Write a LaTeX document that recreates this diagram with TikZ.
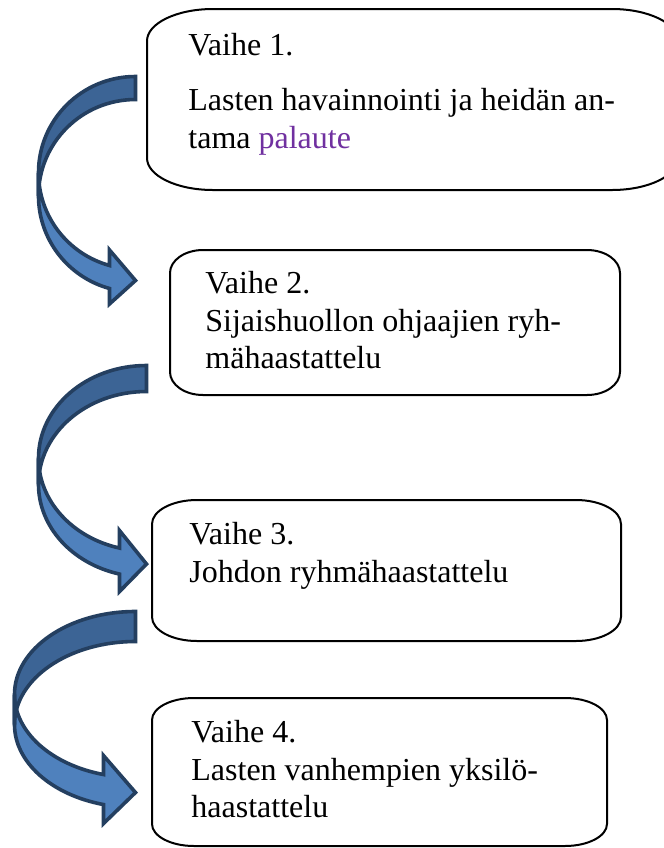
\documentclass[tikz,border=0pt]{standalone}
\usepackage{fontspec}
\setmainfont{Liberation Serif}
\definecolor{arlight}{HTML}{4F81BD}
\definecolor{ardark}{HTML}{3C6495}
\definecolor{arline}{HTML}{243F60}
\definecolor{purp}{HTML}{7030A0}
\tikzset{
  lightband/.style={fill=arlight},
  darkband/.style={fill=ardark},
  arrowline/.style={draw=arline, line width=1.8pt, line join=miter},
  boxline/.style={draw=black, line width=1pt},
  txt/.style={anchor=base west, inner sep=0pt, font=\fontsize{16}{19}\selectfont}
}
% curved right arrow: #1 x0, #2 y0, #3 W, #4 H, #5 th, #6 aw, #7 ah (px, y down)
\newcommand{\curvarrow}[7]{%
\begin{scope}[shift={(#1,#2)}]
\pgfmathsetmacro\caW{#3}
\pgfmathsetmacro\caH{#4}
\pgfmathsetmacro\caT{#5}
\pgfmathsetmacro\caA{#6}
\pgfmathsetmacro\caL{#7}
\pgfmathsetmacro\caHR{\caH/2-(\caT+\caA)/4}
\pgfmathsetmacro\caTone{acos(-\caL/\caW)}
\pgfmathsetmacro\caDY{\caHR*sin(\caTone)}
\pgfmathsetmacro\caYf{\caHR+\caDY}
\pgfmathsetmacro\caYs{\caYf+\caT}
\pgfmathsetmacro\caDH{(\caA-\caT)/2}
\pgfmathsetmacro\caYfo{\caYf-\caDH}
\pgfmathsetmacro\caYe{\caYs+\caDH}
\pgfmathsetmacro\caYsix{\caH-\caA/2}
\pgfmathsetmacro\caXone{\caW-\caL}
\path[lightband] (0,\caHR) arc[start angle=180, end angle=\caTone, x radius=\caW, y radius=\caHR]
  -- (\caXone,\caYfo) -- (\caW,\caYsix) -- (\caXone,\caYe) -- (\caXone,\caYs)
  arc[start angle=\caTone, end angle=180, x radius=\caW, y radius=\caHR] -- cycle;
\path[darkband] (0,\caHR) arc[start angle=180, end angle=270, x radius=\caW, y radius=\caHR]
  -- (\caW,\caT) arc[start angle=270, end angle=180, x radius=\caW, y radius=\caHR] -- cycle;
\path[arrowline] (0,\caHR) arc[start angle=180, end angle=\caTone, x radius=\caW, y radius=\caHR]
  -- (\caXone,\caYfo) -- (\caW,\caYsix) -- (\caXone,\caYe) -- (\caXone,\caYs)
  arc[start angle=\caTone, end angle=180, x radius=\caW, y radius=\caHR] -- cycle;
\path[arrowline] (0,\caHR) arc[start angle=180, end angle=270, x radius=\caW, y radius=\caHR]
  -- (\caW,\caT) arc[start angle=270, end angle=180, x radius=\caW, y radius=\caHR] -- cycle;
\end{scope}}
% rounded box with elliptical corners: #1 x1, #2 y1, #3 x2, #4 y2, #5 rx, #6 ry
\newcommand{\ellbox}[6]{%
\path[boxline] (#1+#5,#2) -- (#3-#5,#2)
  arc[start angle=270, end angle=360, x radius=#5, y radius=#6] -- (#3,#4-#6)
  arc[start angle=0, end angle=90, x radius=#5, y radius=#6] -- (#1+#5,#4)
  arc[start angle=90, end angle=180, x radius=#5, y radius=#6] -- (#1,#2+#6)
  arc[start angle=180, end angle=270, x radius=#5, y radius=#6] -- cycle;}
\begin{document}
\begin{tikzpicture}[x=0.5pt, y=-0.5pt]
\useasboundingbox (0,0) rectangle (664,848);
\fill[white] (0,0) rectangle (664,848);
% boxes
\ellbox{147}{9}{678}{190}{66}{32}
\ellbox{170}{250}{620}{395}{33}{23}
\ellbox{152}{500}{621}{641}{45}{24}
\ellbox{152}{698}{607}{846}{42}{22}
% arrows
\curvarrow{38.5}{76.5}{97}{231}{23}{54}{26}
\curvarrow{38.5}{365.5}{108}{229}{26}{61}{27}
\curvarrow{14.5}{611.5}{121}{215}{30}{68}{32}
% texts
\node[txt] (b1a) at (188,55) {Vaihe 1.};
\node[txt] (b1b) at (188,110) {Lasten havainnointi ja heidän an-};
\node[txt] (b1c) at (188,148) {tama \textcolor{purp}{palaute}};
\node[txt] (b2a) at (205,293) {Vaihe 2.};
\node[txt] (b2b) at (205,331) {Sijaishuollon ohjaajien ryh-};
\node[txt] (b2c) at (205,368) {mähaastattelu};
\node[txt] (b3a) at (189,544) {Vaihe 3.};
\node[txt] (b3b) at (189,582) {Johdon ryhmähaastattelu};
\node[txt] (b4a) at (191,742) {Vaihe 4.};
\node[txt] (b4b) at (191,780) {Lasten vanhempien yksilö-};
\node[txt] (b4c) at (191,817) {haastattelu};
\end{tikzpicture}
\end{document}
